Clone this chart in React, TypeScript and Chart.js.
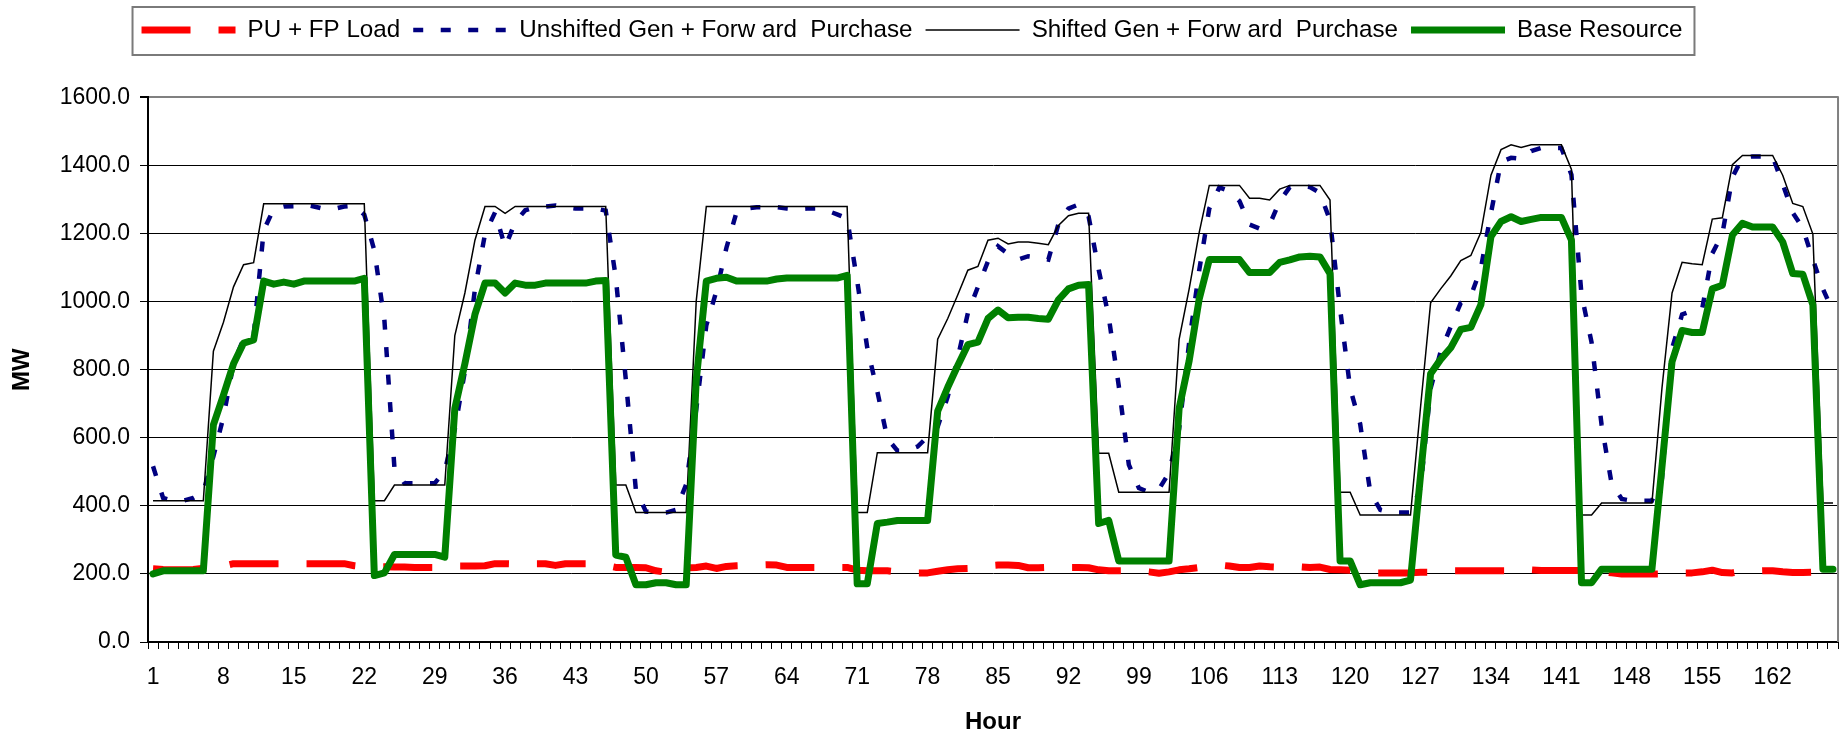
import React, { useEffect, useRef } from 'react';
import { Chart, registerables } from 'chart.js';

Chart.register(...registerables);

const hours: string[] = Array.from({ length: 168 }, (_, i) => String(i + 1));

const puFpLoad = [
  215, 213, 212, 212, 213, 216, 220, 223, 230, 230, 230, 230, 230, 230, 230, 230, 230, 230, 230, 230, 224, 221, 221, 221,
  220, 220, 219, 219, 219, 219, 223, 223, 223, 224, 230, 230, 229, 229, 230, 230, 225, 230, 230, 230, 230, 225, 219, 219,
  219, 218, 209, 205, 210, 218, 219, 223, 216, 222, 224, 225, 226, 227, 226, 219, 219, 219, 219, 219, 219, 219, 211, 209,
  209, 209, 206, 204, 203, 203, 208, 212, 215, 216, 220, 224, 226, 226, 225, 218, 218, 219, 219, 219, 219, 218, 212, 209,
  209, 209, 209, 206, 202, 206, 212, 215, 219, 223, 226, 223, 219, 219, 223, 221, 220, 220, 221, 219, 220, 213, 212, 211,
  204, 203, 203, 203, 203, 203, 205, 205, 209, 209, 209, 209, 209, 209, 209, 209, 209, 212, 210, 210, 210, 210, 210, 207,
  207, 203, 200, 200, 200, 200, 200, 203, 203, 203, 206, 211, 204, 203, 208, 208, 209, 209, 206, 204, 204, 205, 205, 205,
];

const unshiftedGen = [
  516, 423, 415, 415, 423, 440, 545, 661, 817, 891, 899, 1209, 1272, 1279, 1280, 1285, 1279, 1272, 1272, 1279, 1282, 1255, 1150, 945,
  510, 466, 466, 466, 466, 503, 625, 795, 1037, 1198, 1262, 1160, 1233, 1268, 1277, 1279, 1282, 1277, 1273, 1273, 1273, 1267, 1071, 770,
  446, 383, 380, 380, 388, 463, 683, 930, 1030, 1158, 1262, 1273, 1277, 1277, 1277, 1273, 1271, 1273, 1273, 1267, 1256, 1244, 1060, 864,
  736, 597, 562, 562, 574, 603, 632, 721, 835, 966, 1043, 1118, 1162, 1140, 1123, 1133, 1129, 1123, 1227, 1273, 1285, 1250, 1094, 955,
  752, 521, 452, 440, 449, 497, 625, 880, 1092, 1273, 1335, 1324, 1295, 1226, 1214, 1226, 1295, 1336, 1340, 1336, 1319, 1238, 979, 745,
  640, 440, 388, 380, 380, 380, 452, 745, 853, 926, 996, 1016, 1098, 1260, 1410, 1422, 1419, 1442, 1451, 1451, 1451, 1372, 1020, 880,
  637, 464, 420, 415, 415, 415, 480, 862, 962, 973, 979, 1141, 1198, 1365, 1423, 1426, 1426, 1426, 1345, 1261, 1215, 1123, 1037, 970,
];

const shiftedGen = [
  415, 415, 415, 415, 415, 415, 854, 939, 1043, 1108, 1114, 1287, 1287, 1287, 1287, 1287, 1287, 1287, 1287, 1287, 1287, 1287, 415, 415,
  461, 461, 461, 461, 461, 461, 900, 1025, 1180, 1279, 1279, 1259, 1279, 1279, 1279, 1279, 1279, 1279, 1279, 1279, 1279, 1279, 461, 461,
  380, 380, 380, 380, 380, 380, 1002, 1279, 1279, 1279, 1279, 1279, 1279, 1279, 1279, 1279, 1279, 1279, 1279, 1279, 1279, 1279, 380, 380,
  556, 556, 556, 556, 556, 556, 889, 950, 1020, 1092, 1103, 1180, 1186, 1169, 1175, 1175, 1171, 1167, 1223, 1252, 1259, 1259, 554, 554,
  440, 440, 440, 440, 440, 440, 889, 1037, 1203, 1341, 1341, 1341, 1341, 1303, 1303, 1298, 1330, 1341, 1341, 1341, 1341, 1298, 440, 440,
  373, 373, 373, 373, 373, 373, 690, 996, 1037, 1075, 1120, 1135, 1203, 1371, 1446, 1460, 1452, 1460, 1460, 1460, 1460, 1388, 373, 373,
  408, 408, 408, 408, 408, 408, 746, 1025, 1115, 1111, 1108, 1242, 1246, 1402, 1429, 1429, 1429, 1429, 1371, 1288, 1279, 1198, 408, 408,
];

const baseResource = [
  200, 209, 209, 209, 209, 209, 638, 725, 817, 878, 887, 1060, 1051, 1057, 1051, 1060, 1060, 1060, 1060, 1060, 1060, 1068, 195, 203,
  257, 257, 257, 257, 257, 249, 686, 817, 962, 1054, 1054, 1025, 1054, 1048, 1048, 1054, 1054, 1054, 1054, 1054, 1060, 1062, 255, 249,
  168, 168, 174, 174, 168, 168, 770, 1060, 1068, 1071, 1060, 1060, 1060, 1060, 1066, 1069, 1069, 1069, 1069, 1069, 1069, 1077, 171, 171,
  348, 352, 357, 357, 357, 357, 678, 748, 812, 873, 881, 950, 975, 952, 954, 954, 950, 948, 1005, 1037, 1048, 1050, 348, 357,
  238, 238, 238, 238, 238, 238, 686, 826, 1008, 1123, 1123, 1123, 1123, 1085, 1085, 1085, 1115, 1122, 1131, 1133, 1131, 1082, 238, 238,
  168, 174, 174, 174, 174, 182, 490, 788, 830, 864, 918, 924, 991, 1191, 1235, 1249, 1235, 1241, 1247, 1247, 1247, 1180, 174, 174,
  214, 214, 214, 214, 214, 214, 515, 823, 915, 909, 909, 1037, 1048, 1195, 1230, 1219, 1219, 1219, 1175, 1082, 1080, 990, 214, 214,
];

const seriesLabels = [
  'PU + FP Load',
  'Unshifted Gen + Forw ard  Purchase',
  'Shifted Gen + Forw ard  Purchase',
  'Base Resource',
];

const yTicks = [0, 200, 400, 600, 800, 1000, 1200, 1400, 1600];

const FONT = "'Liberation Sans', Arial, sans-serif";

const styles = [
  { color: '#FF0000', width: 7, dash: [49, 28], cap: 'butt', join: 'round' },
  { color: '#000080', width: 4.5, dash: [10, 17.5], cap: 'butt', join: 'miter' },
  { color: '#000000', width: 1.5, dash: [] as number[], cap: 'butt', join: 'miter' },
  { color: '#008000', width: 7, dash: [] as number[], cap: 'round', join: 'round' },
];

const framePlugin = {
  id: 'frame',
  afterLayout(chart: any) {
    // nudge the centred legend row slightly to the left, as in the reference
    if (chart.legend) chart.legend.right = chart.legend.right - 22;
  },
  afterDraw(chart: any) {
    const { ctx, chartArea } = chart;
    ctx.save();
    ctx.strokeStyle = '#808080';
    ctx.lineWidth = 2;
    ctx.beginPath();
    ctx.moveTo(chartArea.right, chartArea.top - 1);
    ctx.lineTo(chartArea.right, chartArea.bottom);
    ctx.stroke();
    const hb = chart.legend && chart.legend.legendHitBoxes;
    if (hb && hb.length) {
      const last = hb[hb.length - 1];
      const l = hb[0].left - 9;
      const r = last.left + last.width + 12;
      ctx.strokeStyle = '#7a7a7a';
      ctx.strokeRect(l, 7, r - l, 48);
    }
    ctx.restore();
  },
};

export default function App() {
  const ref = useRef<HTMLCanvasElement | null>(null);

  useEffect(() => {
    if (!ref.current) return;
    const values = [puFpLoad, unshiftedGen, shiftedGen, baseResource];
    const orders = [4, 3, 2, 1];
    const chart = new Chart(ref.current, {
      type: 'line',
      data: {
        labels: hours,
        datasets: values.map((v, i) => ({
          label: seriesLabels[i],
          data: v,
          borderColor: styles[i].color,
          backgroundColor: styles[i].color,
          borderWidth: styles[i].width,
          borderDash: styles[i].dash,
          borderCapStyle: styles[i].cap as any,
          borderJoinStyle: styles[i].join as any,
          pointRadius: 0,
          pointHoverRadius: 0,
          tension: 0,
          fill: false,
          order: orders[i],
        })),
      },
      options: {
        responsive: false,
        animation: false,
        devicePixelRatio: 1,
        layout: { padding: { top: 5, right: 2, bottom: 0, left: 0 } },
        plugins: {
          legend: {
            position: 'top',
            weight: 1000,
            labels: {
              usePointStyle: true,
              pointStyleWidth: 94,
              padding: 13,
              color: '#000',
              font: { family: FONT, size: 24.2 },
              generateLabels: () =>
                seriesLabels.map((t, i) => ({
                  text: t,
                  fillStyle: styles[i].color,
                  strokeStyle: styles[i].color,
                  lineWidth: styles[i].width,
                  lineDash: styles[i].dash,
                  lineCap: 'butt',
                  pointStyle: 'line',
                  hidden: false,
                  datasetIndex: i,
                  fontColor: '#000',
                })) as any,
            },
          } as any,
          title: {
            display: true,
            text: '',
            weight: 500,
            padding: 0,
            font: { size: 45, lineHeight: 1 },
          } as any,
          tooltip: { enabled: false },
        },
        scales: {
          x: {
            type: 'category',
            offset: true,
            grid: {
              display: true,
              drawOnChartArea: false,
              offset: true,
              tickLength: 7,
              color: '#000',
              lineWidth: 1,
            },
            border: { display: true, color: '#000', width: 2 },
            ticks: {
              autoSkip: false,
              maxRotation: 0,
              minRotation: 0,
              padding: 15,
              color: '#000',
              font: { family: FONT, size: 23 },
              callback: (_v: any, i: number) => (i % 7 === 0 ? hours[i] : ''),
            },
            title: {
              display: true,
              text: 'Hour',
              color: '#000',
              font: { family: FONT, size: 24, weight: 'bold' },
              padding: { top: 0, bottom: 0 },
            },
            afterFit: (s: any) => {
              s.height = 95;
            },
          },
          y: {
            min: yTicks[0],
            max: yTicks[yTicks.length - 1],
            afterBuildTicks: (s: any) => {
              s.ticks = yTicks.map((v) => ({ value: v }));
            },
            ticks: {
              padding: 10,
              color: '#000',
              font: { family: FONT, size: 23 },
              callback: (v: any) => Number(v).toFixed(1),
            },
            grid: {
              color: (c: any) => (c.tick && c.tick.value === 1600 ? '#808080' : '#000'),
              lineWidth: (c: any) => (c.tick && c.tick.value === 1600 ? 2 : 1),
              tickColor: '#000',
              tickLength: 8,
            },
            border: { display: true, color: '#000', width: 2 },
            title: {
              display: true,
              text: 'MW',
              color: '#000',
              font: { family: FONT, size: 24, weight: 'bold' },
              padding: { top: 8, bottom: 0 },
            },
            afterFit: (s: any) => {
              s.width = 148;
            },
          },
        },
      } as any,
      plugins: [framePlugin],
    });
    return () => chart.destroy();
  }, []);

  return (
    <canvas
      ref={ref}
      width={1848}
      height={737}
      style={{ position: 'absolute', left: 0, top: 0, width: 1848, height: 737 }}
    />
  );
}
